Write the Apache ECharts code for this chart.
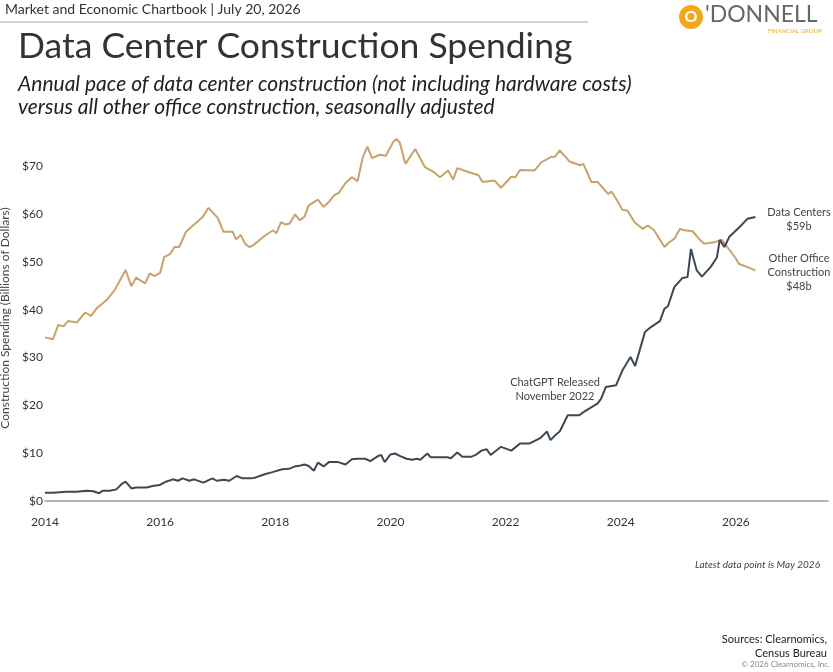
<!DOCTYPE html>
<html>
<head>
<meta charset="utf-8">
<script src="https://cdn.jsdelivr.net/npm/echarts@6/dist/echarts.min.js"></script>
<style>
html,body{margin:0;padding:0;background:#fff;}
#chart{width:833px;height:672px;}
</style>
</head>
<body>
<div id="chart"></div>
<script>
window.onload = function() {
  drawChart();
}

// [year, billions]
var office = [
  [2014.0,34.2],[2014.14,33.8],[2014.23,36.8],[2014.32,36.5],[2014.4,37.6],[2014.55,37.3],
  [2014.7,39.4],[2014.8,38.7],[2014.9,40.3],[2015.07,42],[2015.21,44.1],[2015.4,48.3],
  [2015.5,44.9],[2015.58,46.7],[2015.74,45.5],[2015.82,47.6],[2015.9,47],[2016.0,47.7],
  [2016.07,51],[2016.17,51.6],[2016.25,53.1],[2016.33,53.1],[2016.45,56.3],[2016.57,57.6],
  [2016.74,59.4],[2016.84,61.3],[2017.0,59.2],[2017.1,56.3],[2017.26,56.3],[2017.32,54.7],
  [2017.4,55.6],[2017.48,53.7],[2017.55,53.1],[2017.62,53.5],[2017.8,55.3],[2017.96,56.6],
  [2018.02,56],[2018.1,58.3],[2018.18,57.8],[2018.25,58],[2018.34,59.9],[2018.43,58.7],
  [2018.51,59.5],[2018.58,61.8],[2018.74,63],[2018.84,61.5],[2018.93,62.5],[2019.02,63.9],
  [2019.1,64.4],[2019.22,66.5],[2019.33,67.7],[2019.43,66.9],[2019.52,71.9],[2019.6,74.1],
  [2019.68,71.7],[2019.81,72.4],[2019.92,72.2],[2020.05,75.1],[2020.1,75.7],[2020.16,75],
  [2020.26,70.5],[2020.43,73.6],[2020.6,69.8],[2020.75,68.8],[2020.86,67.7],[2021.0,69.1],
  [2021.09,67.2],[2021.16,69.6],[2021.35,68.8],[2021.53,68.1],[2021.6,66.7],[2021.81,67],
  [2021.92,65.5],[2022.1,67.8],[2022.17,67.7],[2022.25,69.2],[2022.5,69.1],[2022.62,70.8],
  [2022.8,72],[2022.86,72],[2022.94,73.3],[2023.11,71],[2023.29,70.2],[2023.35,70.5],
  [2023.49,66.7],[2023.6,66.7],[2023.78,64.2],[2023.84,64.7],[2023.92,63.2],[2024.03,60.9],
  [2024.12,60.7],[2024.24,58.3],[2024.38,56.9],[2024.47,57.6],[2024.58,56.6],[2024.76,53.1],
  [2024.84,54.1],[2024.93,54.8],[2025.03,56.9],[2025.1,56.6],[2025.25,56.4],[2025.36,54.8],
  [2025.45,53.8],[2025.62,54.1],[2025.76,54.6],[2025.85,53.1],[2026.0,50.7],[2026.05,49.6],
  [2026.2,48.9],[2026.34,48.2]
];

var dataCenters = [
  [2014.0,1.7],[2014.14,1.7],[2014.37,1.9],[2014.55,1.9],[2014.72,2.1],[2014.84,2.0],
  [2014.94,1.6],[2015.0,2.1],[2015.12,2.1],[2015.24,2.4],[2015.33,3.5],[2015.4,4.0],
  [2015.5,2.6],[2015.58,2.8],[2015.76,2.8],[2015.87,3.1],[2015.99,3.3],[2016.1,4],
  [2016.22,4.5],[2016.31,4.2],[2016.39,4.7],[2016.51,4.2],[2016.59,4.5],[2016.75,3.8],
  [2016.85,4.4],[2016.91,4.7],[2016.98,4.2],[2017.11,4.4],[2017.2,4.2],[2017.33,5.2],
  [2017.43,4.7],[2017.58,4.7],[2017.66,4.9],[2017.83,5.6],[2017.95,6.0],[2018.12,6.6],
  [2018.24,6.7],[2018.34,7.2],[2018.44,7.4],[2018.51,7.6],[2018.58,7.3],[2018.67,6.3],
  [2018.74,8.0],[2018.84,7.2],[2018.93,8.1],[2019.09,8.1],[2019.22,7.6],[2019.33,8.7],
  [2019.42,8.8],[2019.56,8.8],[2019.65,8.3],[2019.79,9.4],[2019.84,9.6],[2019.9,8.1],
  [2020.0,9.7],[2020.08,9.9],[2020.16,9.4],[2020.28,8.8],[2020.38,8.6],[2020.46,8.8],
  [2020.52,8.6],[2020.64,9.9],[2020.7,9.1],[2020.99,9.1],[2021.05,8.9],[2021.16,10.1],
  [2021.25,9.2],[2021.4,9.2],[2021.48,9.6],[2021.58,10.5],[2021.67,10.8],[2021.74,9.6],
  [2021.92,11.3],[2022.1,10.5],[2022.25,12.0],[2022.42,12.0],[2022.6,13.1],[2022.72,14.5],
  [2022.78,12.7],[2022.86,13.7],[2022.94,14.5],[2023.08,17.9],[2023.28,17.9],[2023.36,18.6],
  [2023.6,20.4],[2023.66,21.4],[2023.74,23.8],[2023.92,24.2],[2024.03,27.3],[2024.17,30.1],
  [2024.25,28.2],[2024.42,35.3],[2024.53,36.4],[2024.68,37.6],[2024.76,40.2],[2024.82,40.7],
  [2024.93,44.7],[2025.07,46.6],[2025.16,46.8],[2025.22,52.7],[2025.32,48.2],[2025.41,46.9],
  [2025.56,48.9],[2025.67,50.9],[2025.72,54.6],[2025.8,53.1],[2025.89,55.3],[2025.97,56.2],
  [2026.09,57.6],[2026.2,59.0],[2026.34,59.4]
];

function
drawChart() {
  var chart = echarts.init(document.getElementById('chart'));
  var font = 'Lato, "Open Sans", sans-serif';
  var option = {
    backgroundColor: '#fff',
    animation: false,
    textStyle: {fontFamily: font},
    grid: {left: 45, right: 5, top: 128, bottom: 164, outerBoundsMode: 'none'},
    xAxis: {
      type: 'value',
      min: 2014,
      max: 2027.6,
      interval: 2,
      axisLine: {lineStyle: {color: '#9a9a9a', width: 1.5}},
      axisTick: {show: false},
      splitLine: {show: false},
      axisLabel: {
        color: '#333', fontSize: 12, margin: 8, showMaxLabel: false,
        formatter: function(v) { return String(v); }
      }
    },
    yAxis: {
      type: 'value',
      min: -1.5,
      max: 78,
      axisLine: {show: false},
      axisTick: {show: false},
      splitLine: {show: false},
      name: 'Construction Spending (Billions of Dollars)',
      nameLocation: 'middle',
      nameGap: 33,
      nameTextStyle: {color: '#444', fontSize: 12},
      axisLabel: {
        color: '#333', fontSize: 12, margin: 2,
        customValues: [0, 10, 20, 30, 40, 50, 60, 70],
        formatter: function(v) { return '$' + v; }
      }
    },
    series: [{
      name: 'Other Office Construction',
      type: 'line',
      data: office,
      showSymbol: false,
      lineStyle: {color: '#c9a26a', width: 2}
    }, {
      name: 'Data Centers',
      type: 'line',
      data: dataCenters,
      showSymbol: false,
      lineStyle: {color: '#3c4954', width: 2}
    }],
    graphic: [
      {type: 'text', left: 5, top: 2, style: {text: 'Market and Economic Chartbook | July 20, 2026', fill: '#333', font: '14px ' + font}},
      {type: 'line', shape: {x1: 0, y1: 22, x2: 588, y2: 22}, style: {stroke: '#aaa', lineWidth: 1}},
      {type: 'text', left: 18, top: 29, style: {text: 'Data Center Construction Spending', fill: '#333', font: '35.5px ' + font}},
      {type: 'text', left: 18, top: 73, style: {text: 'Annual pace of data center construction (not including hardware costs)\nversus all other office construction, seasonally adjusted', fill: '#222', font: 'italic 21px ' + font, lineHeight: 23}},
      {type: 'circle', shape: {cx: 691, cy: 17, r: 12}, style: {fill: '#f5a71c'}},
      {type: 'text', x: 691, y: 17, style: {text: 'O', fill: '#fff', font: 'bold 16px ' + font, align: 'center', verticalAlign: 'middle'}},
      {type: 'text', left: 705, top: 3, style: {text: "'DONNELL", fill: '#666', font: '23px ' + font}},
      {type: 'text', left: 768, top: 28, style: {text: 'FINANCIAL GROUP', fill: '#f5a71c', font: '6px ' + font}},
      {type: 'text', x: 555, y: 375, style: {text: 'ChatGPT Released\nNovember 2022', fill: '#444', font: '11px ' + font, align: 'center', lineHeight: 14}},
      {type: 'text', x: 799, y: 205, style: {text: 'Data Centers\n$59b', fill: '#444', font: '11px ' + font, align: 'center', lineHeight: 14}},
      {type: 'text', x: 799, y: 251, style: {text: 'Other Office\nConstruction\n$48b', fill: '#444', font: '11px ' + font, align: 'center', lineHeight: 14}},
      {type: 'text', right: 13, top: 560, style: {text: 'Latest data point is May 2026', fill: '#444', font: 'italic 10px ' + font}},
      {type: 'text', x: 827, y: 632, style: {text: 'Sources: Clearnomics,\nCensus Bureau', fill: '#222', font: '11px ' + font, align: 'right', lineHeight: 14}},
      {type: 'text', right: 3, top: 660, style: {text: '© 2026 Clearnomics, Inc.', fill: '#888', font: '8px ' + font}}
    ]
  };
  chart.setOption(option);
}
</script>
</body>
</html>
